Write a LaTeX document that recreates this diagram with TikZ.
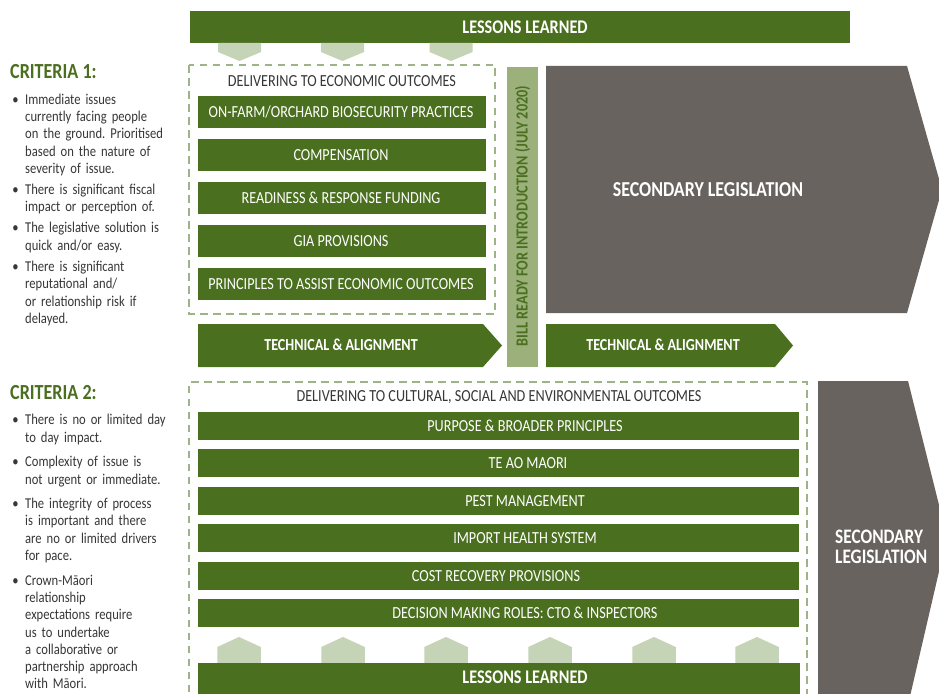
\documentclass[tikz,border=0pt]{standalone}
\usepackage{fontspec}
\setmainfont[FakeStretch=0.84]{Carlito}
\frenchspacing
\definecolor{dkgreen}{RGB}{74,111,30}
\definecolor{billgreen}{RGB}{155,176,123}
\definecolor{hexgreen}{RGB}{197,211,182}
\definecolor{dashgreen}{RGB}{157,180,136}
\definecolor{slate}{RGB}{105,99,95}
\definecolor{txtgrey}{RGB}{55,55,55}
\newcommand{\critem}[2][0pt]{\vskip#1\noindent\llap{\textbullet\hskip6.5pt}#2\par}
\newcommand{\nl}{\hfil\break}
\tikzset{
  barbox/.style={fill=dkgreen, inner sep=0},
  bartext/.style={text=white, inner sep=0, font=\fontsize{16.9}{18}\selectfont},
  boldlab/.style={text=white, inner sep=0, font=\bfseries\fontsize{19.3}{20}\selectfont},
  hexfill/.style={fill=hexgreen},
  dashbox/.style={draw=dashgreen, line width=2.8pt, dash pattern=on 7.5pt off 5.5pt},
  greyfill/.style={fill=slate},
  arrowfill/.style={fill=dkgreen},
  crithead/.style={text=dkgreen, inner sep=0, anchor=west, font=\bfseries\fontsize{21.5}{22}\selectfont},
  critbody/.style={text=txtgrey, inner sep=0, anchor=north west, text width=175pt, align=left, font=\fontsize{15}{17.2}\selectfont},
  heading/.style={text=txtgrey, inner sep=0, font=\fontsize{16.9}{18}\selectfont},
}
\begin{document}
\begin{tikzpicture}[x=1pt,y=-1pt]
\useasboundingbox (0,0) rectangle (939,693);
\clip (0,0) rectangle (939,693);
\fill[white] (0,0) rectangle (939,693);

% top lessons learned
\node[barbox, minimum width=660, minimum height=32] (lltop) at (520,27) {};
\node[boldlab] (lltoptext) at (525,27) {LESSONS LEARNED};
\foreach \c in {239.5,342.5,451}
  \fill[hexfill] (\c-21.5,43) -- (\c+21.5,43) -- (\c+21.5,52) -- (\c,61) -- (\c-21.5,52) -- cycle;

% upper dashed box
\draw[dashbox] (189,65) rectangle (495,314);
\node[heading] (econhead) at (342,81) {DELIVERING TO ECONOMIC OUTCOMES};
\node[barbox, minimum width=288, minimum height=32] (e1) at (342,112) {};
\node[barbox, minimum width=288, minimum height=32] (e2) at (342,155) {};
\node[barbox, minimum width=288, minimum height=32] (e3) at (342,198) {};
\node[barbox, minimum width=288, minimum height=32] (e4) at (342,241) {};
\node[barbox, minimum width=288, minimum height=32] (e5) at (342,284) {};
\node[bartext] (e1t) at (341,112) {ON-FARM/ORCHARD BIOSECURITY PRACTICES};
\node[bartext] (e2t) at (341,155) {COMPENSATION};
\node[bartext] (e3t) at (341,198) {READINESS \& RESPONSE FUNDING};
\node[bartext] (e4t) at (341,241) {GIA PROVISIONS};
\node[bartext] (e5t) at (341,284) {PRINCIPLES TO ASSIST ECONOMIC OUTCOMES};

% bill bar
\node[fill=billgreen, minimum width=31, minimum height=300, inner sep=0] (bill) at (522.5,217) {};
\node[rotate=90, text=dkgreen, inner sep=0, font=\bfseries\fontsize{16.9}{18}\selectfont] (billtext) at (522.5,216) {BILL READY FOR INTRODUCTION (JULY 2020)};

% upper secondary legislation
\fill[greyfill] (546,66) -- (907,66) -- (942,189.5) -- (907,313) -- (546,313) -- cycle;
\node[boldlab, font=\bfseries\fontsize{21.3}{22}\selectfont] (sec1) at (708,190) {SECONDARY LEGISLATION};

% technical arrows
\fill[arrowfill] (198,324) -- (483,324) -- (502,345.5) -- (483,367) -- (198,367) -- cycle;
\node[boldlab, font=\bfseries\fontsize{16.8}{18}\selectfont] (tech1) at (341,345) {TECHNICAL \& ALIGNMENT};
\fill[arrowfill] (546,324) -- (775,324) -- (793,345.5) -- (775,367) -- (546,367) -- cycle;
\node[boldlab, font=\bfseries\fontsize{16.8}{18}\selectfont] (tech2) at (663,345) {TECHNICAL \& ALIGNMENT};

% lower dashed box
\draw[dashbox] (189,705) -- (189,382) -- (807,382) -- (807,705);
\node[heading] (culthead) at (499,397) {DELIVERING TO CULTURAL, SOCIAL AND ENVIRONMENTAL OUTCOMES};
\node[barbox, minimum width=601, minimum height=28] (c1) at (498.5,426) {};
\node[barbox, minimum width=601, minimum height=28] (c2) at (498.5,463) {};
\node[barbox, minimum width=601, minimum height=28] (c3) at (498.5,501) {};
\node[barbox, minimum width=601, minimum height=28] (c4) at (498.5,538) {};
\node[barbox, minimum width=601, minimum height=28] (c5) at (498.5,576) {};
\node[barbox, minimum width=601, minimum height=28] (c6) at (498.5,613) {};
\node[bartext] (c1t) at (525,426) {PURPOSE \& BROADER PRINCIPLES};
\node[bartext] (c2t) at (528,463) {TE AO MAORI};
\node[bartext] (c3t) at (525,501) {PEST MANAGEMENT};
\node[bartext] (c4t) at (525,538) {IMPORT HEALTH SYSTEM};
\node[bartext] (c5t) at (496,576) {COST RECOVERY PROVISIONS};
\node[bartext] (c6t) at (525,613) {DECISION MAKING ROLES: CTO \& INSPECTORS};

% bottom lessons learned
\foreach \c in {239,343,446,550,654,757}
  \fill[hexfill] (\c-21.75,663) -- (\c-21.75,647) -- (\c,637) -- (\c+21.75,647) -- (\c+21.75,663) -- cycle;
\node[barbox, minimum width=602, minimum height=40] (llbot) at (499,683) {};
\node[boldlab] (llbottext) at (525,677) {LESSONS LEARNED};

% lower secondary legislation
\fill[greyfill] (818,381) -- (908,381) -- (947,537) -- (908,705) -- (818,705) -- cycle;
\node[boldlab, anchor=west, align=left, font=\bfseries\fontsize{20.6}{20}\selectfont] (sec2) at (835,547) {SECONDARY\\LEGISLATION};

% criteria 1
\node[crithead] (crit1) at (10,72) {CRITERIA 1:};
\node[critbody] (crit1body) at (12,87) {\leftskip=13pt
\critem{Immediate issues\nl currently facing people\nl on the ground. Prioritised\nl based on the nature of\nl severity of issue.}
\critem[4pt]{There is significant fiscal\nl impact or perception of.}
\critem[4pt]{The legislative solution is\nl quick and/or easy.}
\critem[4.5pt]{There is significant\nl reputational and/\nl or relationship risk if\nl delayed.}};

% criteria 2
\node[crithead] (crit2) at (10,393) {CRITERIA 2:};
\node[critbody] (crit2body) at (12,407.5) {\leftskip=13pt
\critem{There is no or limited day\nl to day impact.}
\critem[7.5pt]{Complexity of issue is\nl not urgent or immediate.}
\critem[7.5pt]{The integrity of process\nl is important and there\nl are no or limited drivers\nl for pace.}
\critem[8pt]{Crown-Māori\nl relationship\nl expectations require\nl us to undertake\nl a collaborative or\nl partnership approach\nl with Māori.}};
\end{tikzpicture}
\end{document}
